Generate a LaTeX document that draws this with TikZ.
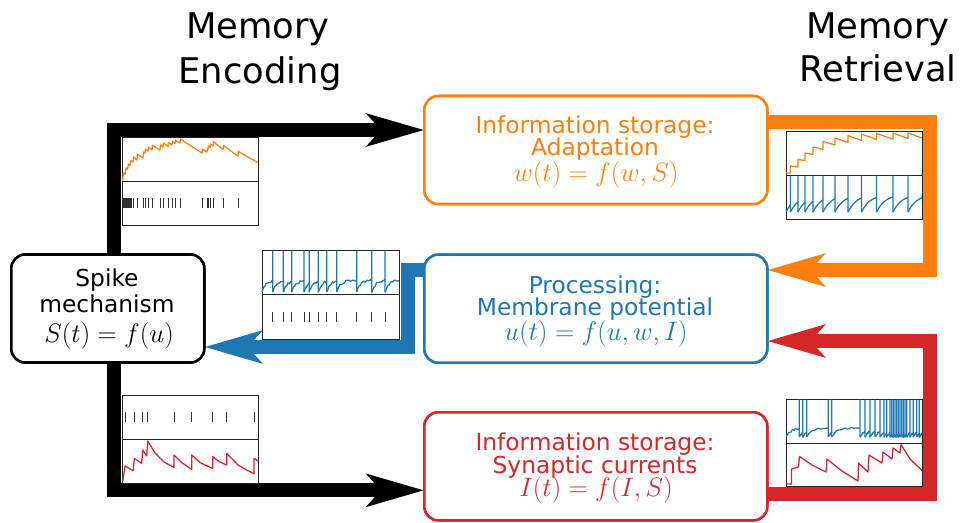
\RequirePackage{fix-cm}
\documentclass[tikz,border=0pt]{standalone}
\usepackage[no-math]{fontspec}
\setmainfont{DejaVu Sans}
\usetikzlibrary{arrows.meta,calc}
\definecolor{mplorange}{HTML}{FF7F0E}
\definecolor{mplblue}{HTML}{1F77B4}
\definecolor{mplred}{HTML}{D62728}
\tikzset{
  bigarrow/.style={line width=10.5pt, -{Stealth[length=42.75pt,width=24pt,inset=10.5pt]}},
  membox/.style={draw, line width=1.9pt, rounded corners=10.5pt, fill=white, inner sep=0pt, outer sep=0pt, minimum width=257.25pt, minimum height=81pt},
  spkbox/.style={draw, line width=1.9pt, rounded corners=10.5pt, fill=white, inner sep=0pt, outer sep=0pt, minimum width=144.75pt, minimum height=81pt},
  boxtxt/.style={font=\fontsize{17.5}{21}\selectfont, anchor=base, inner sep=0pt},
  mathtxt/.style={font=\fontsize{20}{24}\selectfont, anchor=base, inner sep=0pt},
  titletxt/.style={font=\fontsize{26.5}{32}\selectfont, anchor=base, inner sep=0pt},
  frame/.style={draw=black!85, line width=0.75pt, fill=white},
  trace/.style={line width=0.95pt, line join=round},
  rastertick/.style={draw=black!80, line width=0.6pt},
}
\def\spktau{5}
% color, x0, xend, yreset, ythr, ytop, noise, times, last spike
\newcommand\spktrain[9]{%
  \foreach \t [remember=\t as \tp (initially #2)] in {#8}{%
    \draw[trace,#1] plot[domain=\tp:\t,samples=14] (\x,{#5+(#4-#5)*exp(-(\x-\tp)/\spktau)+#7*rand}) -- (\t,#6) -- (\t,#4);
  }%
  \draw[trace,#1] plot[domain=#9:#3,samples=14] (\x,{#5+(#4-#5)*exp(-(\x-#9)/\spktau)+#7*rand});
}
\pgfmathsetseed{7}
\begin{document}
\begin{tikzpicture}[x=0.75pt,y=-0.75pt]
\useasboundingbox (0,0) rectangle (965,522);

% boxes (positions)
\node[spkbox] (spike) at (107.8,308.5) {};
\node[membox, draw=mplorange] (orange) at (595.8,150) {};
\node[membox, draw=mplblue] (blue) at (595.8,308.7) {};
\node[membox, draw=mplred] (red) at (595.8,466.3) {};
\coordinate (oc) at (930,200);
\coordinate (rc) at (930,420);

% connectors
\draw[bigarrow] ($(spike.north)+(6.2,0)$) |- ($(orange.west)+(0,-20)$);
\draw[bigarrow] ($(spike.south)+(6.2,0)$) |- ($(red.west)+(0,24)$);
\draw[bigarrow, mplblue] ($(blue.west)+(0,-38.7)$) -| ($(blue.west)+(-16.5,0)$) |- ($(spike.east)+(0,38.5)$);
\draw[bigarrow, mplorange] ($(orange.east)+(0,-28)$) -| (oc) |- ($(blue.east)+(0,-38.7)$);
\draw[bigarrow, mplred] ($(red.east)+(0,27.5)$) -| (rc) |- ($(blue.east)+(0,32.3)$);

% redraw boxes on top
\node[spkbox] (spikeb) at (spike) {};
\node[membox, draw=mplorange] (orangeb) at (orange) {};
\node[membox, draw=mplblue] (blueb) at (blue) {};
\node[membox, draw=mplred] (redb) at (red) {};

% ---- plot 1 (top left)
\draw[frame] (122,137) rectangle (258,225);
\draw[frame] (122,181.5) -- (258,181.5);
\draw[trace,mplorange] (122.5,181) -- (123.5,173) -- (125,174.5) -- (126,168) -- (127.5,169.5) -- (128.5,164) -- (130,165.5) -- (131,160.5) -- (133,162) -- (133.5,157) -- (137,160) -- (137.5,154) -- (143,158) -- (143.5,152) -- (145,153) -- (145.5,149) -- (148,151) -- (148.5,147) -- (152,150) -- (152.5,145.5) -- (160,150) -- (160.5,145) -- (163,147) -- (163.5,143) -- (168,146.5) -- (168.5,142.5) -- (172,145) -- (172.5,141.5) -- (175,143.5) -- (175.5,140.5) -- (180,143) -- (180.5,139) -- (191,146) -- (202,153) -- (202.5,149) -- (207,152) -- (207.5,148.5) -- (208,149) -- (208.5,146) -- (210,147.5) -- (210.5,144) -- (213,146) -- (213.5,141.5) -- (218,145.5) -- (223,149.5) -- (223.5,145.5) -- (231,151) -- (238,156) -- (238.5,151.5) -- (248,157) -- (258,162.5);
\foreach \s in {123,124,125,126,127,128,129,130,131,133,137,143,145,148,152,160,163,168,172,175,180,202,207,208,210,213,223,238}
  \draw[rastertick] (\s,198) -- (\s,208);

% ---- plot 2 (right, orange)
\draw[frame] (786,131) rectangle (922,219);
\draw[frame] (786,175) -- (922,175);
\draw[trace,mplorange] (786,173) -- (790.5,173) -- (790.5,166) -- (798,167) -- (798,159.5) -- (805,160.5) -- (805,153) -- (813,154.5) -- (813,147) -- (823,149.5) -- (823,141.5) -- (835,145) -- (835,138) -- (848,142.5) -- (848,135.5) -- (861.5,140.5) -- (861.5,134) -- (876.5,139.5) -- (876.5,133.5) -- (893,139) -- (893,133) -- (908,138.5) -- (908,133) -- (922,138);
\def\spktau{9}
\spktrain{mplblue}{786}{922}{212}{194}{176.5}{0}{790.5,798,805,813,823,835,848,861.5,876.5,893,908}{908}

% ---- plot 3 (middle, blue)
\draw[frame] (262,250) rectangle (399,339);
\draw[frame] (262,294) -- (399,294);
\def\spktau{4}
\spktrain{mplblue}{262}{399}{292}{280}{251}{1.2}{272.7,283.3,291.7,304,309.3,318.3,326.7,336.7,356.7,371.7,385}{385}
\foreach \s in {272.7,283.3,291.7,304,309.3,318.3,326.7,336.7,356.7,371.7,385}
  \draw[rastertick] (\s,312) -- (\s,322);

% ---- plot 4 (bottom left)
\draw[frame] (122,395) rectangle (258,483);
\draw[frame] (122,439) -- (258,439);
\foreach \s in {125,134.3,142.7,147.7,174,191.7,212.7,226.7,254}
  \draw[rastertick] (\s,412) -- (\s,422);
\draw[trace,mplred] (122.5,481) -- (123,480) -- (125,466) -- (133.3,470.7) -- (134.3,458.3) -- (141.7,463.3) -- (142.7,450) -- (146.7,456) -- (147.7,441) -- (155,453) -- (164,462) -- (174,467.5) -- (174,455) -- (181,462) -- (191.7,469.5) -- (191.7,455) -- (200,462.5) -- (212.7,468.5) -- (212.7,456.5) -- (219,461.5) -- (226.7,465) -- (226.7,453.3) -- (238,465) -- (254,474) -- (254,458.3) -- (258,461);

% ---- plot 5 (right, red)
\draw[frame] (786,399) rectangle (922,486);
\draw[frame] (786,443) -- (922,443);
\def\spktau{5}
\spktrain{mplblue}{786}{922}{437}{428}{400}{0.8}{799.3,802.7,806.7,828.3,831.7,860,865,870,875,880,884,886.7,890,891.7,893.3,895,896.7,898.3,900,901.7,903.3,905,906.7,910,913.3,916.7,919.3}{919.3}
\draw[trace,mplred] (786.5,484) -- (791.5,484) -- (791.5,469) -- (798.5,467) -- (799.5,456.5) -- (812,465) -- (826,472) -- (827,459) -- (842,471) -- (858,481) -- (858.5,463) -- (868,472) -- (869,455) -- (882,463) -- (883,452) -- (892,459) -- (893,448) -- (900,453) -- (901,444.5) -- (910,459) -- (922,470.5);

% ---- titles
\node[titletxt] (enc1) at (258,38.3) {Memory};
\node[titletxt] (enc2) at (260,83) {Encoding};
\node[titletxt] (ret1) at (878,38.3) {Memory};
\node[titletxt] (ret2) at (878,81.7) {Retrieval};

% ---- box texts
\node[boxtxt] (sp1) at (107,286.7) {Spike};
\node[boxtxt] (sp2) at (107,312) {mechanism};
\node[mathtxt] (sp3) at (109,342) {$S(t)=f(u)$};

\node[boxtxt, text=mplorange] (or1) at (595,133.3) {Information storage:};
\node[boxtxt, text=mplorange] (or2) at (595,155.7) {Adaptation};
\node[mathtxt, text=mplorange] (or3) at (596,181.7) {$w(t)=f(w,S)$};

\node[boxtxt, text=mplblue] (bl1) at (595,293.3) {Processing:};
\node[boxtxt, text=mplblue] (bl2) at (595,315) {Membrane potential};
\node[mathtxt, text=mplblue] (bl3) at (596,340.7) {$u(t)=f(u,w,I)$};

\node[boxtxt, text=mplred] (rd1) at (595,450) {Information storage:};
\node[boxtxt, text=mplred] (rd2) at (595,473.3) {Synaptic currents};
\node[mathtxt, text=mplred] (rd3) at (596,496.7) {$I(t)=f(I,S)$};
\end{tikzpicture}
\end{document}
